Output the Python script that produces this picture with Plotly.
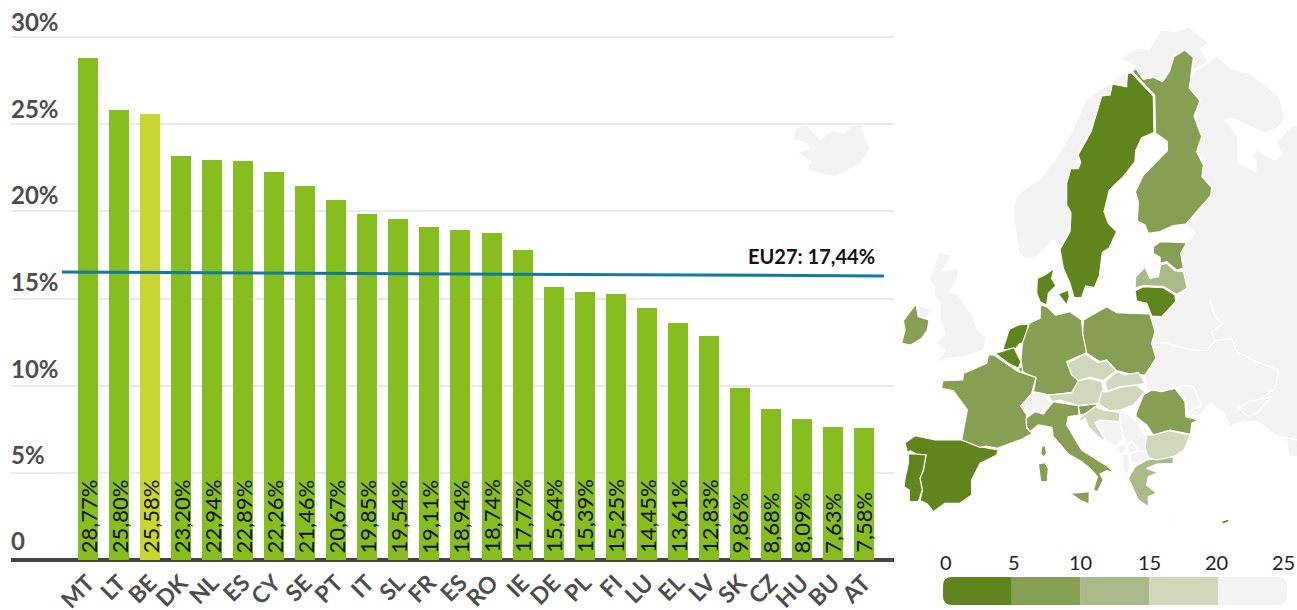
import plotly.graph_objects as go

# ---------- bar chart data ----------
countries = ["MT","LT","BE","DK","NL","ES","CY","SE","PT","IT","SL","FR","ES","RO","IE","DE","PL","FI","LU","EL","LV","SK","CZ","HU","BU","AT"]
shares = [28.77,25.80,25.58,23.20,22.94,22.89,22.26,21.46,20.67,19.85,19.54,19.11,18.94,18.74,17.77,15.64,15.39,15.25,14.45,13.61,12.83,9.86,8.68,8.09,7.63,7.58]
share_labels = ["28,77%","25,80%","25,58%","23,20%","22,94%","22,89%","22,26%","21,46%","20,67%","19,85%","19,54%","19,11%","18,94%","18,74%","17,77%","15,64%","15,39%","15,25%","14,45%","13,61%","12,83%","9,86%","8,68%","8,09%","7,63%","7,58%"]
y_ticks = [0,5,10,15,20,25,30]
y_tick_labels = ["0","5%","10%","15%","20%","25%","30%"]
eu_line_x = [-0.84, 25.64]
eu_line_y = [16.52, 16.30]
eu_label = "EU27: 17,44%"
legend_edges = [0,5,10,15,20,25]

GREEN = "#86bd1f"; LIME = "#c9d531"; BLUE = "#0f7ba0"
C1 = "#5f851c"; C2 = "#869f53"; C3 = "#a9ba88"; C4 = "#cfd8bb"; C5 = "#f3f3f3"
legend_colors = [C1, C2, C3, C4, C5]

# ---------- map outlines (estimated, in map units) ----------
def S(pts):  # southern sheet
    return [(x, y + 840) for x, y in pts]
def K(pts):  # central Europe sheet
    return [(x + 360, y + 960) for x, y in pts]
def I(pts):  # Iceland sheet
    return [(x - 330, y + 270) for x, y in pts]

iceland = I([(38,88),(48,55),(82,45),(120,88),(155,62),(190,70),(215,45),(250,45),(255,80),(270,115),(245,160),(165,200),(80,180),(92,155),(52,128),(85,118),(80,100)])
norway = [(735,140),(690,115),(745,85),(778,88),(812,30),(855,35),(895,20),(958,68),(932,85),(953,125),(905,155),(912,112),(884,90),(852,110),(838,155),(817,185),(790,172),(760,178),(737,145),(724,152),(712,160),(710,200),(667,192),(660,225),(635,228),(603,335),(564,405),(572,427),(565,445),(542,447),(530,490),(530,555),(543,578),(540,635),(510,688),(490,660),(440,710),(412,720),(387,700),(372,600),(372,548),(390,518),(450,475),(495,420),(545,335),(590,235)]
east = [(905,160),(955,128),(982,108),(1020,145),(1080,160),(1168,230),(1185,295),(1165,322),(1125,340),(1025,295),(1005,300),(1043,345),(1045,425),(1097,455),(1098,425),(1088,405),(1100,390),(1155,420),(1175,405),(1158,365),(1210,315),(1225,320)] + S([(1225,470),(1195,470),(1190,425),(1165,410),(1100,365),(1060,365),(1020,380),(1000,340),(960,310),(930,345),(893,345),(890,305),(865,262),(815,272),(770,268),(765,225),(798,175),(785,130),(795,95),(780,45),(810,50),(835,30),(857,5)]) + [(892,805),(880,755),(872,700),(890,668),(915,640),(888,612),(962,527),(965,503),(936,470),(940,435),(920,395),(935,350),(912,288),(930,242),(898,205)]
crimea = S([(1045,325),(1075,305),(1145,290),(1105,335),(1075,350)])
uk = [(145,700),(185,703),(160,750),(208,745),(197,790),(180,815),(205,822),(232,868)] + S([(245,40),(262,90),(290,110),(280,150),(225,170),(170,175),(130,195),(165,155),(140,130),(165,100),(150,60),(150,5)]) + [(133,830),(133,800),(118,775)]
n_ireland = S([(85,15),(125,30),(110,55),(90,50)])
sweden = [(724,158),(790,228),(792,338),(755,353),(737,392),(735,425),(700,470),(658,510),(642,575),(655,610),(680,635),(657,685),(637,697),(628,768),(613,803),(587,798),(575,832),(552,833),(540,790),(520,745),(510,688),(540,635),(543,578),(530,555),(530,490),(542,447),(565,445),(572,427),(564,405),(603,335),(635,228),(660,225),(667,192),(710,200),(712,160)]
finland = [(737,145),(760,178),(790,172),(817,185),(838,155),(852,110),(884,90),(910,112),(898,205),(930,242),(912,288),(935,350),(920,395),(940,435),(936,470),(965,503),(962,527),(888,612),(850,617),(810,635),(775,640),(765,615),(742,603),(745,545),(736,515),(760,465),(832,392),(832,365),(797,340),(794,226),(727,155)]
estonia = [(790,680),(810,665),(890,668),(872,700),(880,745),(860,750),(830,725),(812,730),(810,712),(790,700)]
latvia = [(735,805),(737,770),(765,742),(780,775),(805,770),(812,735),(830,730),(855,752),(880,755),(892,805),(860,823),(820,800),(760,797)]
lithuania = [(735,812),(760,800),(820,803),(855,825),(857,845)] + S([(835,30),(815,50),(785,48),(770,10)]) + [(740,843)]
jutland = [(465,765),(492,745),(485,775),(498,797),(475,820),(470,855),(450,845),(440,820),(442,775)]
zealand = [(505,822),(535,810),(538,830),(530,855)]
ireland = S([(78,12),(85,50),(117,60),(112,90),(95,115),(62,135),(35,130),(45,90),(40,62)])
netherlands = S([(415,72),(410,125),(388,132),(378,145),(338,150),(358,88),(385,75)])
belgium = S([(315,160),(372,143),(393,185),(385,205),(355,190)])
luxembourg = S([(385,205),(398,198),(400,212),(390,218)])
germany = S([(452,15),(470,20),(497,45),(540,35),(575,60),(578,100),(592,158),(530,185),(545,222),(575,243),(545,278),(480,285),(430,275),(438,235),(398,215),(393,180),(397,130),(418,70),(450,55)])
france = S([(295,165),(312,165),(355,195),(385,215),(438,232),(425,280),(392,318),(410,345),(410,385),(428,400),(395,418),(322,445),(288,438),(270,442),(215,420),(232,330),(190,272),(155,265),(158,242),(218,240),(220,220),(290,190)])
spain = S([(45,428),(75,407),(135,420),(215,420),(270,440),(325,450),(320,465),(270,490),(245,540),(245,585),(210,610),(165,610),(130,635),(112,612),(90,602),(97,570),(90,535),(100,510),(108,465),(78,462),(60,452),(52,458)])
portugal = S([(55,462),(75,462),(108,465),(100,510),(90,535),(97,570),(85,605),(58,605),(58,570),(42,560),(45,535),(55,490)])
italy = K([(48,235),(75,215),(100,222),(130,185),(205,197),(207,225),(175,230),(170,255),(215,330),(255,355),(295,380),(310,398),(290,392),(270,402),(280,420),(262,455),(250,450),(262,410),(240,385),(215,365),(175,342),(130,290),(125,262),(85,255),(60,275),(50,260)])
sardinia = K([(85,372),(105,368),(115,385),(112,425),(92,425)])
corsica = K([(95,320),(105,315),(110,340),(100,352),(92,340)])
sicily = S([(540,580),(598,575),(597,612),(570,600)])
slovenia = K([(205,198),(262,190),(250,215),(210,225)])
switzerland = K([(32,190),(50,165),(90,150),(108,170),(135,205),(105,205),(85,222),(50,210),(35,210)])
austria = K([(115,165),(185,158),(205,122),(238,115),(275,125),(280,150),(268,190),(205,197),(150,180),(125,185)])
czechia = K([(172,70),(225,42),(265,68),(288,62),(318,92),(280,122),(240,112),(205,122),(185,105)])
slovakia = K([(285,125),(320,95),(345,105),(385,97),(405,130),(380,135),(330,140),(292,155)])
hungary = K([(275,155),(292,155),(330,142),(380,135),(405,155),(370,195),(330,210),(300,212),(265,192)])
romania = K([(378,220),(400,165),(425,150),(455,155),(495,145),(525,185),(528,230),(565,240),(545,250),(542,283),(480,270),(430,285),(410,255),(378,230)])
bulgaria = K([(410,285),(430,285),(480,272),(540,285),(522,330),(490,350),(440,360),(415,352),(405,325)])
greece = S([(715,535),(735,500),(770,480),(800,475),(850,470),(850,490),(800,492),(770,505),(805,518),(775,530),(770,555),(800,580),(775,590),(775,620),(745,600)])
croatia = K([(208,235),(255,200),(280,210),(330,218),(328,245),(270,240),(255,248),(285,300),(305,315),(270,295),(235,260),(225,235),(212,245)])
bosnia = K([(258,245),(280,240),(330,248),(340,300),(315,320),(285,300)])
serbia = K([(325,213),(360,225),(385,255),(415,300),(405,330),(385,335),(365,305),(345,315),(345,300),(330,250)])
montenegro = K([(318,322),(345,312),(350,325),(335,345)])
kosovo = K([(350,320),(365,305),(385,330),(360,340)])
macedonia = K([(360,345),(380,333),(410,335),(415,355),(395,368),(365,370)])
albania = K([(335,340),(355,345),(360,375),(355,405),(340,395)])
cyprus = S([(992,665),(1020,655),(1015,665),(1000,672)])
crete = S([(818,657),(848,660),(830,662)])
poland = S([(580,60),(650,20),(680,38),(780,42),(795,95),(785,130),(798,175),(765,225),(720,222),(680,212),(650,180),(630,185),(590,160),(578,100)])
border_a = S([(960,0),(975,50),(1000,70),(965,95),(975,122)])
border_b = S([(785,130),(820,128),(900,148),(950,152),(975,122),(1025,115),(1040,155),(1100,185),(1165,210),(1155,265),(1115,295)])
border_c = S([(865,255),(910,260),(935,318),(905,330),(893,345)])
border_d = S([(1165,410),(1225,420)])

map_layers = [
    (C5, [iceland, norway, east, crimea, uk, n_ireland, switzerland, bosnia, serbia, montenegro, kosovo, macedonia, albania]),
    (C1, [sweden, jutland, zealand, lithuania, netherlands, belgium, spain, portugal, cyprus]),
    (C2, [finland, estonia, ireland, luxembourg, germany, poland, france, italy, sardinia, corsica, sicily, slovenia, romania]),
    (C3, [latvia, greece, crete]),
    (C4, [austria, czechia, slovakia, hungary, bulgaria, croatia]),
]
map_borders = [border_a, border_b, border_c, border_d]

# ---------- figure ----------
W, H = 1297, 610
PX = 87.2 / 5      # pixels per percent
ZERO_PX = 560.2
BOTTOM = 564
fig = go.Figure()
x_idx = list(range(len(countries)))
bar_colors = [LIME if c == "BE" else GREEN for c in countries]
fig.add_trace(go.Bar(x=x_idx, y=shares, marker=dict(color=bar_colors, line_width=0), width=20/31.04, hoverinfo="skip", showlegend=False))
fig.add_trace(go.Scatter(x=eu_line_x, y=eu_line_y, mode="lines", line=dict(color=BLUE, width=3), hoverinfo="skip", showlegend=False))

for color, polys in map_layers:
    for poly in polys:
        xs = [p[0] for p in poly] + [poly[0][0]]
        ys = [p[1] for p in poly] + [poly[0][1]]
        fig.add_trace(go.Scatter(x=xs, y=ys, xaxis="x2", yaxis="y2", mode="lines", fill="toself", fillcolor=color,
                                 line=dict(color="white", width=1.2), hoverinfo="skip", showlegend=False))
for b in map_borders:
    fig.add_trace(go.Scatter(x=[p[0] for p in b], y=[p[1] for p in b], xaxis="x2", yaxis="y2", mode="lines",
                             line=dict(color="white", width=1.2), hoverinfo="skip", showlegend=False))

ann = []
for i, lab in zip(x_idx, share_labels):
    ann.append(dict(x=i, y=0, xref="x", yref="y", text=lab, textangle=-90, showarrow=False, yanchor="bottom", xanchor="center",
                    yshift=5, font=dict(family="Lato", size=22, color="#111111")))
y_label_shift = [3, 2, 1, 1, 0, -1, -1]
for v, lab, sh in zip(y_ticks, y_tick_labels, y_label_shift):
    ann.append(dict(x=11/W, y=v, xref="paper", yref="y", text=lab, showarrow=False, xanchor="left", yanchor="bottom",
                    yshift=sh, xshift=-2, font=dict(family="Lato", size=24, color="#4d4d4d", weight=700)))
ann.append(dict(x=877/W, y=eu_line_y[1], xref="paper", yref="y", text=f"<b>{eu_label}</b>", showarrow=False, xanchor="right",
                yanchor="bottom", yshift=6, font=dict(family="Lato", size=20, color="#111111")))
legend_shift = [3, 2, 0, 0, -2, -4]
for e, sh in zip(legend_edges, legend_shift):
    ann.append(dict(x=e, y=1, xref="x3", yref="y3", text=str(e), showarrow=False, xanchor="center", yanchor="bottom",
                    xshift=sh, yshift=1, font=dict(family="Lato", size=20, color="#222222")))

shapes = []
rx, ry = 0.65, 0.32
for k, col in enumerate(legend_colors):
    a, b = legend_edges[k], legend_edges[k+1]
    if k == 0:
        path = f"M {a+rx},0 L {b},0 L {b},1 L {a+rx},1 Q {a},1 {a},{1-ry} L {a},{ry} Q {a},0 {a+rx},0 Z"
    elif k == len(legend_colors) - 1:
        path = f"M {a},0 L {b-rx},0 Q {b},0 {b},{ry} L {b},{1-ry} Q {b},1 {b-rx},1 L {a},1 Z"
    else:
        path = f"M {a},0 L {b},0 L {b},1 L {a},1 Z"
    shapes.append(dict(type="path", path=path, xref="x3", yref="y3", fillcolor=col, line_width=0))

fig.add_trace(go.Scatter(x=[0,25], y=[0,1], xaxis="x3", yaxis="y3", mode="markers", marker=dict(opacity=0), hoverinfo="skip", showlegend=False))

fig.update_layout(
    width=W, height=H, margin=dict(l=0, r=0, t=0, b=0, autoexpand=False), paper_bgcolor="white", plot_bgcolor="rgba(0,0,0,0)",
    bargap=0, showlegend=False, annotations=ann, shapes=shapes, hovermode=False,
    xaxis=dict(domain=[11/W, 894/W], range=[(11-88)/31.04, (894-88)/31.04], tickmode="array", tickvals=x_idx, ticktext=countries,
               tickangle=-45, showgrid=False, zeroline=False, showline=False, ticks="", automargin=False,
               ticklabelstandoff=0, tickfont=dict(family="Lato", size=23, color="#4d4d4d", weight=700)),
    yaxis=dict(domain=[(H-BOTTOM)/H, 1], range=[(ZERO_PX-BOTTOM)/PX, ZERO_PX/PX], tickmode="array", tickvals=y_ticks, showticklabels=False,
               gridcolor="#ebebeb", gridwidth=2, zeroline=True, zerolinecolor="#444444", zerolinewidth=4, ticks="", automargin=False),
    xaxis2=dict(domain=[0, 1], range=[-2670, 1221], visible=False, fixedrange=True, automargin=False),
    yaxis2=dict(domain=[0, 1], range=[1770, -60], visible=False, fixedrange=True, automargin=False),
    xaxis3=dict(domain=[943/W, 1287/W], range=[0, 25], visible=False, automargin=False),
    yaxis3=dict(domain=[(H-605)/H, (H-577)/H], range=[0, 1], visible=False, automargin=False),
)
fig.write_html("out.html", config=dict(displayModeBar=False),
               post_script="document.body.style.margin='0';document.body.style.overflow='hidden';")
